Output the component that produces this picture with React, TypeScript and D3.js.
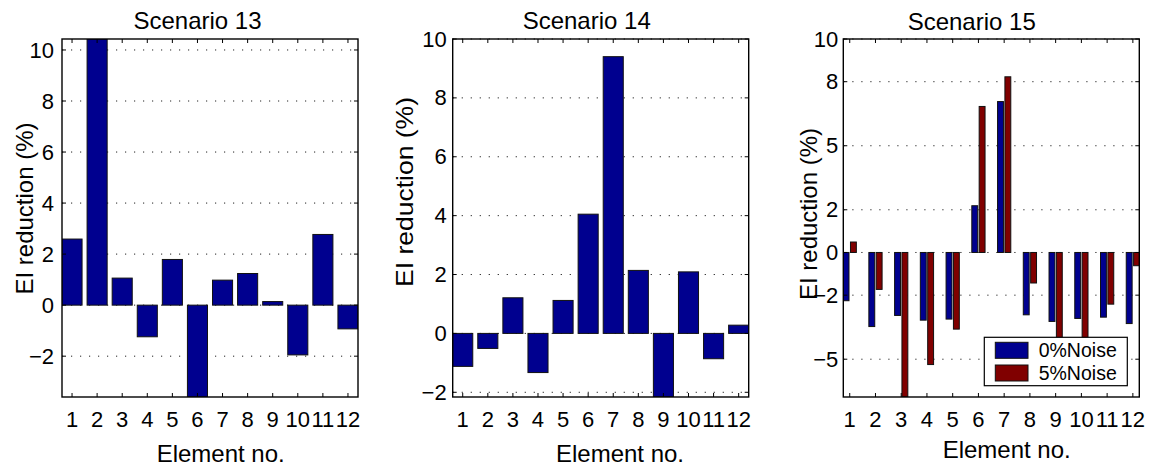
import React from "react";
import * as d3 from "d3";

// Element numbers along the x axis
const elements = [1, 2, 3, 4, 5, 6, 7, 8, 9, 10, 11, 12];

// EI reduction (%) per element
const scenario13 = [2.59, 10.43, 1.06, -1.24, 1.79, -3.6, 0.98, 1.24, 0.14, -1.95, 2.77, -0.93];
const scenario14 = [-1.12, -0.51, 1.21, -1.33, 1.12, 4.05, 9.4, 2.14, -2.16, 2.09, -0.86, 0.28];
const scenario15Noise0 = [-2.26, -3.47, -2.95, -3.17, -3.12, 2.19, 7.07, -2.92, -3.23, -3.09, -3.03, -3.33];
const scenario15Noise5 = [0.49, -1.73, -6.77, -5.25, -3.59, 6.84, 8.23, -1.43, -4.3, -4.2, -2.42, -0.62];

// Axis ranges and tick values
const yRange13 = [-3.6, 10.43];
const yRange14 = [-2.16, 10];
const yRange15 = [-6.77, 10];
const yTicks13 = [-2, 0, 2, 4, 6, 8, 10];
const yTicks14 = [-2, 0, 2, 4, 6, 8, 10];
const yTicks15 = [-5, -2, 0, 2, 5, 8, 10];

const seriesNames = ["0%Noise", "5%Noise"];
const seriesColors = ["#00008f", "#800000"];

const FONT = "'Liberation Sans', Arial, Helvetica, sans-serif";
const W = 1156;
const H = 472;
const TOP = 39;
const PH = 358;
const PW = 296;

type Panel = {
  id: string;
  title: string;
  left: number;
  series: number[][];
  yDomain: number[];
  yTicks: number[];
  xDomain: number[];
  titleX: number;
  titleY: number;
  xLabelX: number;
  xLabelY: number;
  yLabelX: number;
  yLabelY: number;
  yLabelLen?: number;
  tickGap: number;
  legend: boolean;
};

const panels: Panel[] = [
  {
    id: "p13", title: "Scenario 13", left: 62, series: [scenario13],
    yDomain: yRange13, yTicks: yTicks13, xDomain: [0.6, 12.4],
    titleX: 197.5, titleY: 28.5, xLabelX: 220.7, xLabelY: 462,
    yLabelX: 33, yLabelY: 208.5, tickGap: 8, legend: false,
  },
  {
    id: "p14", title: "Scenario 14", left: 452.7, series: [scenario14],
    yDomain: yRange14, yTicks: yTicks14, xDomain: [0.6, 12.4],
    titleX: 586.7, titleY: 29, xLabelX: 620, xLabelY: 462,
    yLabelX: 413, yLabelY: 192, yLabelLen: 190, tickGap: 6, legend: false,
  },
  {
    id: "p15", title: "Scenario 15", left: 843.3, series: [scenario15Noise0, scenario15Noise5],
    yDomain: yRange15, yTicks: yTicks15, xDomain: [0.75, 12.25],
    titleX: 971.7, titleY: 29.5, xLabelX: 1006.7, xLabelY: 457.7,
    yLabelX: 817, yLabelY: 214, tickGap: 5, legend: true,
  },
];

function BarPanel({ p }: { p: Panel }) {
  const x = d3.scaleLinear().domain(p.xDomain).range([p.left, p.left + PW]);
  const y = d3.scaleLinear().domain(p.yDomain).range([TOP + PH, TOP]);
  const n = p.series.length;
  // grouped bar layout: a single series fills 0.8 of a slot, two series share 4/7 of it
  const groupWidth = n === 1 ? 0.8 : Math.min(0.8, n / (n + 1.5));
  const slot = groupWidth / n;
  const barW = n === 1 ? 0.8 : slot * 0.8;
  const unit = x(1) - x(0);
  const right = p.left + PW;
  const bottom = TOP + PH;
  const tickLen = 4;

  return (
    <g>
      <defs>
        <clipPath id={`clip-${p.id}`}>
          <rect x={p.left} y={TOP} width={PW} height={PH} />
        </clipPath>
      </defs>
      {/* dotted horizontal grid */}
      {p.yTicks.map((t) => (
        <line key={`g${t}`} x1={p.left} x2={right} y1={y(t)} y2={y(t)}
          stroke="#222" strokeWidth={1} strokeDasharray="1.2,7.8" />
      ))}
      {/* bars */}
      <g clipPath={`url(#clip-${p.id})`}>
        {p.series.map((vals, si) =>
          vals.map((v, i) => {
            const offset = n === 1 ? 0 : (si - (n - 1) / 2) * slot;
            const cx = x(elements[i] + offset);
            const w = barW * unit;
            const y0 = y(0);
            const yv = y(v);
            return (
              <rect key={`b${si}-${i}`} x={cx - w / 2} y={Math.min(y0, yv)} width={w}
                height={Math.abs(yv - y0)} fill={seriesColors[si]}
                stroke="#111" strokeWidth={1} />
            );
          })
        )}
      </g>
      {/* tick marks on all four sides */}
      {elements.map((e) => (
        <g key={`xt${e}`} stroke="#000" strokeWidth={1}>
          <line x1={x(e)} x2={x(e)} y1={bottom} y2={bottom - tickLen} />
          <line x1={x(e)} x2={x(e)} y1={TOP} y2={TOP + tickLen} />
        </g>
      ))}
      {p.yTicks.map((t) => (
        <g key={`yt${t}`} stroke="#000" strokeWidth={1}>
          <line x1={p.left} x2={p.left + tickLen} y1={y(t)} y2={y(t)} />
          <line x1={right} x2={right - tickLen} y1={y(t)} y2={y(t)} />
        </g>
      ))}
      {/* axes box */}
      <rect x={p.left} y={TOP} width={PW} height={PH} fill="none" stroke="#000" strokeWidth={1.4} />
      {/* tick labels */}
      <g fontFamily={FONT} fontSize={22} fill="#000">
        {elements.map((e) => (
          <text key={`xl${e}`} x={x(e)} y={426.5} textAnchor="middle">{e}</text>
        ))}
        {p.yTicks.map((t) => (
          <text key={`yl${t}`} x={p.left - p.tickGap} y={y(t) + 7.6} textAnchor="end">
            {t < 0 ? `\u2212${Math.abs(t)}` : `${t}`}
          </text>
        ))}
      </g>
      {/* title and axis labels */}
      <g fontFamily={FONT} fontSize={24} fill="#000">
        <text x={p.titleX} y={p.titleY} textAnchor="middle">{p.title}</text>
        <text x={p.xLabelX} y={p.xLabelY} textAnchor="middle">Element no.</text>
        <text transform={`translate(${p.yLabelX},${p.yLabelY}) rotate(-90)`} textAnchor="middle"
          {...(p.yLabelLen ? { textLength: p.yLabelLen, lengthAdjust: "spacingAndGlyphs" } : {})}>
          EI reduction (%)
        </text>
      </g>
      {p.legend && (
        <g>
          <rect x={984.3} y={337.3} width={143} height={48.4} fill="#fff" stroke="#000" strokeWidth={1.2} />
          {seriesNames.map((name, i) => (
            <g key={name}>
              <rect x={995.3} y={342.3 + i * 22.7} width={32.7} height={16}
                fill={seriesColors[i]} stroke="#111" strokeWidth={1} />
              <text x={1038.7} y={357.3 + i * 22.7} fontFamily={FONT} fontSize={19.5} fill="#000">
                {name}
              </text>
            </g>
          ))}
        </g>
      )}
    </g>
  );
}

export default function App() {
  return (
    <svg width={W} height={H} viewBox={`0 0 ${W} ${H}`}
      style={{ position: "absolute", left: 0, top: 0, background: "#fff" }}>
      <rect x={0} y={0} width={W} height={H} fill="#fff" />
      {panels.map((p) => (
        <BarPanel key={p.id} p={p} />
      ))}
    </svg>
  );
}
